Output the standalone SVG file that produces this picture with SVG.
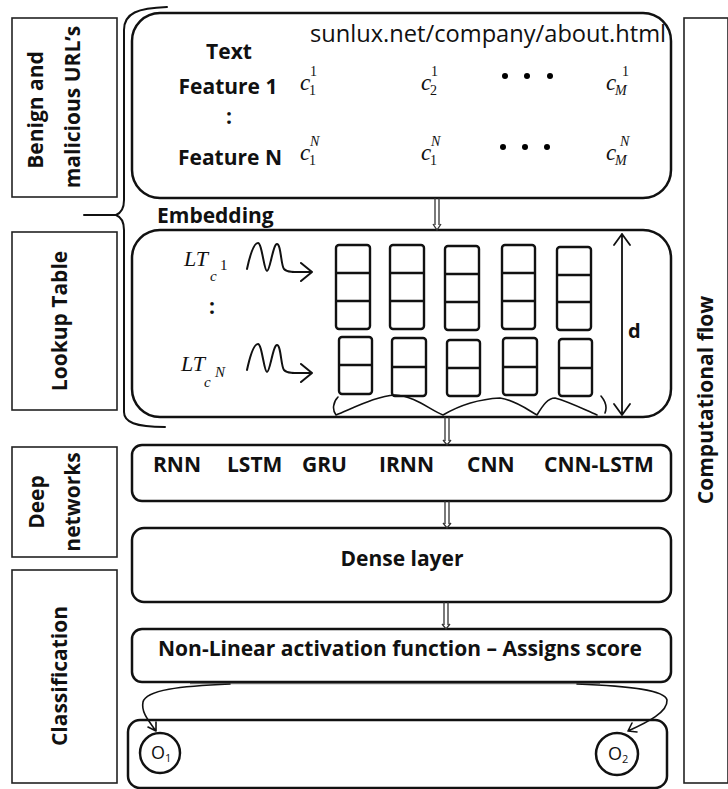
<svg xmlns="http://www.w3.org/2000/svg" width="728" height="789" viewBox="0 0 728 789">
<style>
.bx{fill:none;stroke:#111;stroke-width:2.5}
.lb{fill:none;stroke:#222;stroke-width:1.6}
.t{font-family:"Open Sans","Liberation Sans",sans-serif;font-weight:bold;font-size:21px;fill:#111}
.r{font-family:"Open Sans","Liberation Sans",sans-serif;font-size:22px;fill:#111}
.m{font-family:"Liberation Serif",serif;font-style:italic;font-size:23px;fill:#111}
.ms{font-family:"Liberation Serif",serif;font-style:italic;font-size:14px;fill:#111}
.mn{font-family:"Liberation Serif",serif;font-size:14px;fill:#111}
.ln{fill:none;stroke:#111;stroke-width:2;stroke-linecap:round;stroke-linejoin:round}
.cell{fill:none;stroke:#111;stroke-width:2.4}
.cn{fill:none;stroke:#333;stroke-width:1.3}
</style>
<rect width="728" height="789" fill="#fff"/>

<g id="label-urls">
<rect class="lb" x="12" y="18" width="105" height="179"/>
<text class="t" transform="translate(43,110) rotate(-90)" text-anchor="middle">Benign and</text>
<text class="t" transform="translate(80,107) rotate(-90)" text-anchor="middle">malicious URL’s</text>
</g>
<g id="label-lookup">
<rect class="lb" x="12" y="232" width="105" height="178"/>
<text class="t" transform="translate(67,321) rotate(-90)" text-anchor="middle">Lookup Table</text>
</g>
<g id="label-deep">
<rect class="lb" x="12" y="447" width="105" height="110"/>
<text class="t" transform="translate(44,502) rotate(-90)" text-anchor="middle">Deep</text>
<text class="t" transform="translate(80,502) rotate(-90)" text-anchor="middle">networks</text>
</g>
<g id="label-classification">
<rect class="lb" x="12" y="570" width="105" height="213"/>
<text class="t" transform="translate(67,676) rotate(-90)" text-anchor="middle">Classification</text>
</g>
<g id="label-flow">
<rect class="lb" x="684" y="18" width="44" height="765"/>
<text class="t" transform="translate(713,400) rotate(-90)" text-anchor="middle">Computational flow</text>
</g>

<g id="brace">
<path class="ln" d="M167,7 C138,8 124,13 124,30 L124,200 C124,209 121,213 116,215 C121,217 124,221 124,230 L124,412 C124,422 135,427 165,427"/>
<path class="ln" d="M84,215 L116,215"/>
</g>

<g id="input">
<rect class="bx" x="132" y="13" width="539" height="185" rx="28"/>
<text class="r" x="310" y="42" textLength="356" lengthAdjust="spacingAndGlyphs" style="font-size:23px">sunlux.net/company/about.html</text>
<text class="t" x="229" y="59" text-anchor="middle">Text</text>
<text class="t" x="228" y="94" text-anchor="middle">Feature 1</text>
<text class="t" x="229" y="124" text-anchor="middle">:</text>
<text class="t" x="230" y="165" text-anchor="middle">Feature N</text>
<text class="m" x="300" y="90">c</text><text class="mn" x="310" y="76">1</text><text class="mn" x="309" y="95">1</text>
<text class="m" x="421" y="90">c</text><text class="mn" x="431" y="76">1</text><text class="mn" x="430" y="95">2</text>
<text class="m" x="606" y="90">c</text><text class="mn" x="622" y="76">1</text><text class="ms" x="615" y="95">M</text>
<circle cx="505" cy="76" r="3"/><circle cx="527" cy="76" r="3"/><circle cx="550" cy="76" r="3"/>
<text class="m" x="300" y="160">c</text><text class="ms" x="310" y="146">N</text><text class="mn" x="309" y="165">1</text>
<text class="m" x="421" y="160">c</text><text class="ms" x="431" y="146">N</text><text class="mn" x="430" y="165">1</text>
<text class="m" x="606" y="160">c</text><text class="ms" x="620" y="146">N</text><text class="ms" x="615" y="165">M</text>
<circle cx="503" cy="147" r="3"/><circle cx="525" cy="147" r="3"/><circle cx="547" cy="147" r="3"/>
<text class="t" x="157" y="223">Embedding</text>
</g>

<g id="lookup">
<rect class="bx" x="132" y="230" width="539" height="187" rx="28"/>
<text class="m" x="184" y="266" style="font-size:22px">LT</text><text class="ms" x="210" y="281" style="font-size:15px">c</text><text class="mn" x="220" y="270" style="font-size:15px">1</text>
<text class="t" x="212" y="314" text-anchor="middle">:</text>
<text class="m" x="181" y="371" style="font-size:22px">LT</text><text class="ms" x="204" y="387" style="font-size:15px">c</text><text class="ms" x="215" y="377" style="font-size:15px">N</text>
<path class="ln" d="M247,269 C250,255 254,243 258,243 C262,243 264,271 267,271 C270,271 273,244 277,244 C281,244 281,266 284,269 C288,273 296,272 312,272 M301,263 L312,272 L301,281"/>
<path class="ln" d="M247,370 C250,356 254,344 258,344 C262,344 264,372 267,372 C270,372 273,345 277,345 C281,345 281,367 284,370 C288,374 296,373 312,373 M301,364 L312,373 L301,382"/>
<g id="cells">
<rect class="cell" x="336" y="245" width="34" height="84" rx="3"/><path class="cell" d="M336,273 H370 M336,301 H370"/>
<rect class="cell" x="390" y="245" width="34" height="84" rx="3"/><path class="cell" d="M390,273 H424 M390,301 H424"/>
<rect class="cell" x="445" y="246" width="34" height="84" rx="3"/><path class="cell" d="M445,274 H479 M445,302 H479"/>
<rect class="cell" x="502" y="245" width="33" height="84" rx="3"/><path class="cell" d="M502,273 H535 M502,301 H535"/>
<rect class="cell" x="557" y="247" width="34" height="83" rx="3"/><path class="cell" d="M557,275 H591 M557,302 H591"/>
<rect class="cell" x="339" y="337" width="33" height="57" rx="3"/><path class="cell" d="M339,365 H372"/>
<rect class="cell" x="392" y="338" width="34" height="58" rx="3"/><path class="cell" d="M392,367 H426"/>
<rect class="cell" x="447" y="340" width="33" height="56" rx="3"/><path class="cell" d="M447,368 H480"/>
<rect class="cell" x="503" y="338" width="34" height="57" rx="3"/><path class="cell" d="M503,367 H537"/>
<rect class="cell" x="559" y="339" width="33" height="57" rx="3"/><path class="cell" d="M559,368 H592"/>
</g>
<path class="ln" style="stroke-width:1.6" d="M338,397 C333,402 332,410 336,415 C360,405 378,396 395,395 C415,396 430,410 443,415 C460,405 480,399 500,398 C515,400 528,410 537,415 C543,405 548,398 555,398 C570,402 585,410 597,415 M601,396 C606,402 607,408 605,413"/>
<path class="ln" style="stroke-width:1.8" d="M622,234 V415 M614,245 L622,234 L630,245 M614,404 L622,415 L630,404"/>
<text class="t" x="628" y="338" style="font-size:20px">d</text>
</g>

<g id="deep">
<rect class="bx" x="132" y="445" width="539" height="56" rx="10"/>
<text class="t" x="153" y="472">RNN</text>
<text class="t" x="227" y="472">LSTM</text>
<text class="t" x="302" y="472">GRU</text>
<text class="t" x="379" y="472">IRNN</text>
<text class="t" x="467" y="472">CNN</text>
<text class="t" x="544" y="472">CNN-LSTM</text>
</g>

<g id="dense">
<rect class="bx" x="132" y="528" width="539" height="74" rx="12"/>
<text class="t" x="402" y="566" text-anchor="middle">Dense layer</text>
</g>

<g id="activation">
<rect class="bx" x="132" y="629" width="539" height="53" rx="10"/>
<text class="t" x="400" y="656" text-anchor="middle">Non-Linear activation function – Assigns score</text>
</g>

<g id="output">
<rect class="bx" x="128" y="720" width="539" height="68" rx="12"/>
<g id="o1"><circle class="bx" cx="160" cy="753" r="20"/><text class="r" x="151" y="759" style="font-size:18px">O<tspan style="font-size:11px" dy="3">1</tspan></text></g>
<g id="o2"><circle class="bx" cx="617" cy="754" r="21"/><text class="r" x="608" y="760" style="font-size:18px">O<tspan style="font-size:11px" dy="3">2</tspan></text></g>
</g>

<g id="connectors">
<path class="cn" d="M435,198 V225 M439,198 V225 M433,224 L437,230 L441,224"/>
<path class="cn" d="M445,417 V441 M449,417 V441 M443,440 L447,445 L451,440"/>
<path class="cn" d="M445,501 V524 M449,501 V524 M443,523 L447,528 L451,523"/>
<path class="cn" d="M444,602 V625 M448,602 V625 M442,624 L446,629 L450,624"/>
<path class="ln" style="stroke-width:1.6" d="M230,684 C180,686 146,690 143,702 C141,712 148,720 156,731 M148,727 L156,731 L156,722"/>
<path class="ln" style="stroke-width:1.6" d="M577,684 C630,686 665,690 667,700 C668,712 648,722 628,731 M632,723 L628,731 L637,732"/>
<path d="M190,683.5 H600" stroke="#333" stroke-width="1.5" opacity="0.6"/>
</g>
</svg>
